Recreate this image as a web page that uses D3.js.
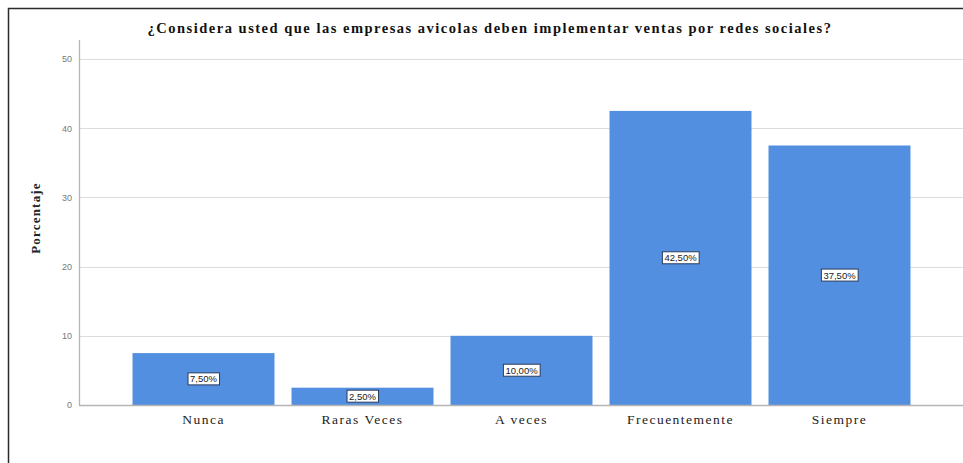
<!DOCTYPE html>
<html>
<head>
<meta charset="utf-8">
<script src="https://cdn.jsdelivr.net/npm/d3@7"></script>
<style>
  html, body { margin: 0; padding: 0; background: #fff; }
  svg { display: block; }
</style>
</head>
<body>
<svg id="chart" width="963" height="463"></svg>
<script>
// Survey answers and their percentages
const categories = ["Nunca", "Raras Veces", "A veces", "Frecuentemente", "Siempre"];
const percentages = [7.5, 2.5, 10.0, 42.5, 37.5];
const valueLabels = ["7,50%", "2,50%", "10,00%", "42,50%", "37,50%"];
const yTicks = [0, 10, 20, 30, 40, 50];
const titleText = "¿Considera usted que las empresas avicolas deben implementar ventas por redes sociales?";
const yAxisTitle = "Porcentaje";

const SERIF = "'Liberation Serif', 'DejaVu Serif', serif";
const SANS = "'Liberation Sans', 'DejaVu Sans', sans-serif";

const svg = d3.select("#chart");
const W = 963, H = 463;

// Outer frame (left and top edges)
svg.append("path")
  .attr("d", `M8.5,${H} L8.5,8.5 L${W},8.5`)
  .attr("fill", "none")
  .attr("stroke", "#2b2b2b")
  .attr("stroke-width", 1.5);

const plotLeft = 79, plotRight = W, plotTop = 40, plotBottom = 405;

const y = d3.scaleLinear().domain([0, 50]).range([plotBottom, 59]);
const x = d3.scaleBand().domain(categories).range([124, 919])
  .paddingInner(0.107).paddingOuter(0.0535);

// Gridlines
svg.append("g")
  .selectAll("line")
  .data(yTicks.filter(d => d > 0))
  .join("line")
  .attr("x1", plotLeft).attr("x2", plotRight)
  .attr("y1", d => Math.round(y(d)) + 0.5).attr("y2", d => Math.round(y(d)) + 0.5)
  .attr("stroke", "#dcdcdc").attr("stroke-width", 1.2);

// Y axis tick labels
const yAxis = d3.axisLeft(y).tickValues(yTicks).tickSize(0).tickPadding(7);
const gy = svg.append("g").attr("transform", `translate(${plotLeft},0)`).call(yAxis);
gy.attr("font-family", null);
gy.select(".domain").remove();
gy.selectAll("text")
  .style("font-family", SANS)
  .style("font-size", "9px")
  .attr("fill", "#777");

// Bars
svg.append("g")
  .selectAll("rect")
  .data(categories)
  .join("rect")
  .attr("x", d => x(d))
  .attr("width", x.bandwidth())
  .attr("y", (d, i) => y(percentages[i]))
  .attr("height", (d, i) => y(0) - y(percentages[i]))
  .attr("fill", "#538fe0");

// Axis lines
svg.append("line")
  .attr("x1", plotLeft + 0.5).attr("x2", plotLeft + 0.5)
  .attr("y1", plotTop).attr("y2", plotBottom + 1)
  .attr("stroke", "#b5b5b5").attr("stroke-width", 1.3);
svg.append("line")
  .attr("x1", plotLeft).attr("x2", plotRight)
  .attr("y1", plotBottom + 0.5).attr("y2", plotBottom + 0.5)
  .attr("stroke", "#b5b5b5").attr("stroke-width", 1.3);

// X axis category labels
const xAxis = d3.axisBottom(x).tickSize(0).tickPadding(9);
const gx = svg.append("g").attr("transform", `translate(0,${plotBottom})`).call(xAxis);
gx.attr("font-family", null);
gx.select(".domain").remove();
gx.selectAll("text")
  .style("font-family", SERIF)
  .style("font-size", "13.5px")
  .style("letter-spacing", "1.5px")
  .attr("fill", "#222");

// Value labels in boxes at mid-bar
const lab = svg.append("g").selectAll("g")
  .data(categories)
  .join("g")
  .attr("transform", (d, i) =>
    `translate(${x(d) + x.bandwidth() / 2},${(y(percentages[i]) + y(0)) / 2})`);
lab.append("text")
  .attr("text-anchor", "middle")
  .attr("dy", "0.35em")
  .style("font-family", SANS)
  .style("font-size", "9.5px")
  .attr("fill", "#222")
  .text((d, i) => valueLabels[i]);
lab.each(function () {
  const g = d3.select(this);
  const bb = g.select("text").node().getBBox();
  g.insert("rect", "text")
    .attr("x", bb.x - 2).attr("y", bb.y - 0.5)
    .attr("width", bb.width + 4).attr("height", bb.height + 1)
    .attr("fill", "#fff")
    .attr("stroke", "#2a3d5a").attr("stroke-width", 1);
});

// Title
svg.append("text")
  .attr("x", 490).attr("y", 33)
  .attr("text-anchor", "middle")
  .style("font-family", SERIF)
  .style("font-weight", "bold")
  .style("font-size", "14.5px")
  .style("letter-spacing", "1.5px")
  .attr("fill", "#111")
  .text(titleText);

// Y axis title
svg.append("text")
  .attr("transform", `translate(40,218) rotate(-90)`)
  .attr("text-anchor", "middle")
  .style("font-family", SERIF)
  .style("font-weight", "bold")
  .style("font-size", "13px")
  .style("letter-spacing", "1.2px")
  .attr("fill", "#222")
  .text(yAxisTitle);
</script>
</body>
</html>
